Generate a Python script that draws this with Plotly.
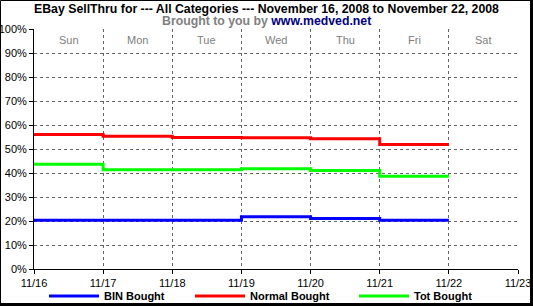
import plotly.graph_objects as go

# ---- data ----
dates = ["2008-11-16", "2008-11-17", "2008-11-18", "2008-11-19", "2008-11-20", "2008-11-21", "2008-11-22"]
bin_bought = [20.3, 20.3, 20.3, 21.8, 21.0, 20.3, 20.3]
normal_bought = [56.0, 55.3, 54.8, 54.7, 54.3, 51.9, 51.9]
tot_bought = [43.6, 41.4, 41.4, 41.8, 41.0, 38.6, 38.6]
series_names = ["BIN Bought", "Normal Bought", "Tot Bought"]
series_colors = ["#0000ff", "#ff0000", "#00ff00"]
day_names = ["Sun", "Mon", "Tue", "Wed", "Thu", "Fri", "Sat"]
day_centers = ["2008-11-16 12:00", "2008-11-17 12:00", "2008-11-18 12:00", "2008-11-19 12:00",
               "2008-11-20 12:00", "2008-11-21 12:00", "2008-11-22 12:00"]
title_text = "EBay SellThru for --- All Categories --- November 16, 2008 to November 22, 2008"

W, H = 533, 306
L, R, T, B = 34, 15, 29, 37
PW, PH = W - L - R, H - T - B

def px2x(px):
    return (px - L) / PW

def py2y(py):
    return (H - B - py) / PH

FONT = "Liberation Sans"

fig = go.Figure()
legend_ids = ["legend", "legend2", "legend3"]
legend_x_px = [44, 190, 354]
for name, vals, col, lid in zip(series_names, [bin_bought, normal_bought, tot_bought], series_colors, legend_ids):
    fig.add_trace(go.Scatter(x=dates, y=vals, name=name, mode="lines", legend=lid,
                             line=dict(color=col, width=3, shape="hv")))

annotations = [
    dict(text="<b>" + title_text + "</b>", x=px2x(266.5), xref="paper",
         y=py2y(9), yref="paper", showarrow=False, xanchor="center", yanchor="middle",
         font=dict(family=FONT, size=12.3, color="black")),
    dict(text="<b><span style='color:#808080'>Brought to you by </span>"
              "<span style='color:#000080'>www.medved.net</span></b>",
         x=px2x(266), xref="paper", y=py2y(20.5), yref="paper", showarrow=False,
         xanchor="center", yanchor="middle", font=dict(family=FONT, size=12.3)),
]
for nm, xc in zip(day_names, day_centers):
    annotations.append(dict(text=nm, x=xc, xref="x", y=py2y(40), yref="paper",
                            showarrow=False, xanchor="center", yanchor="middle",
                            font=dict(family=FONT, size=11, color="#808080")))

shapes = [
    dict(type="rect", xref="paper", yref="paper", x0=px2x(0.5), x1=px2x(531), y0=py2y(304.5), y1=py2y(0.5),
         line=dict(color="black", width=1)),
    dict(type="line", xref="paper", yref="paper", x0=px2x(531.5), x1=px2x(531.5), y0=py2y(306), y1=py2y(0),
         line=dict(color="black", width=3)),
    dict(type="line", xref="paper", yref="paper", x0=px2x(0), x1=px2x(533), y0=py2y(304.5), y1=py2y(304.5),
         line=dict(color="black", width=3)),
]

legend_common = dict(orientation="h", xanchor="left", y=py2y(296), yanchor="middle",
                     font=dict(family=FONT, size=11, color="black", weight="bold"),
                     itemwidth=50, tracegroupgap=0, bgcolor="rgba(0,0,0,0)")
legend_layout = {lid: dict(legend_common, x=px2x(xp)) for lid, xp in zip(legend_ids, legend_x_px)}

fig.update_layout(
    width=W, height=H, margin=dict(l=L, r=R, t=T, b=B, autoexpand=False),
    paper_bgcolor="white", plot_bgcolor="white",
    font=dict(family=FONT, size=11, color="black"),
    showlegend=True,
    annotations=annotations, shapes=shapes,
    xaxis=dict(type="date", range=["2008-11-16", "2008-11-23"], dtick=86400000, tick0="2008-11-16",
               tickformat="%m/%d", tickangle=0, showgrid=True, gridcolor="#666666", griddash="3px,3px", gridwidth=1,
               showline=True, linecolor="black", linewidth=1, ticks="outside", ticklen=4,
               tickcolor="black", zeroline=False, tickfont=dict(size=11), automargin=False),
    yaxis=dict(range=[0, 100], dtick=10, ticksuffix="%", showgrid=True, gridcolor="#666666",
               griddash="3px,3px", gridwidth=1, showline=True, linecolor="black", linewidth=1,
               ticks="outside", ticklen=4, tickcolor="black", zeroline=False, tickfont=dict(size=11),
               automargin=False),
    **legend_layout,
)

fig.write_html("out.html")
